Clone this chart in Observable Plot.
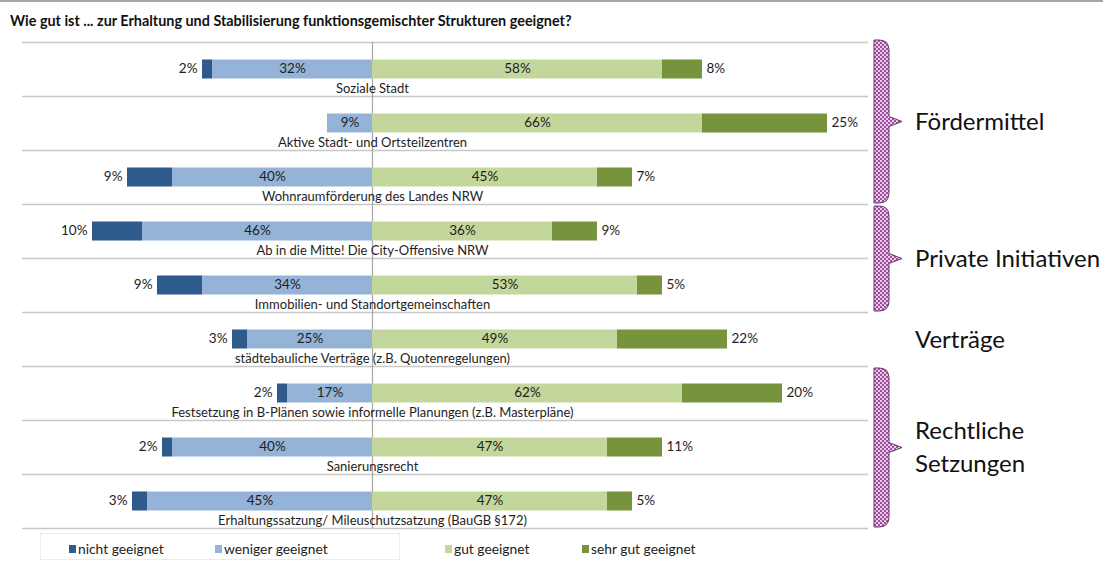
<!DOCTYPE html>
<html><head><meta charset="utf-8">
<script src="https://cdn.jsdelivr.net/npm/d3@7"></script>
<script src="https://cdn.jsdelivr.net/npm/@observablehq/plot@0.6"></script>
<style>
html,body{margin:0;padding:0;background:#fff;width:1103px;height:561px;overflow:hidden;font-family:Lato,"Open Sans",sans-serif;}
#title{box-sizing:border-box;height:36px;border-top:2px solid #a6a6a6;padding:10px 0 0 10px;font-weight:bold;font-size:14.4px;color:#111;white-space:nowrap;}
#chart svg{display:block;overflow:visible}
#legend{position:relative;height:25px;font-size:13.8px;color:#222}
#legend .box{position:absolute;left:40px;top:-3px;width:360px;height:27px;border:1px solid #ececec;box-sizing:border-box}
#legend .item{position:absolute;top:4px;white-space:nowrap;display:flex;align-items:center}
#legend .sw{display:inline-block;width:7px;height:8px;margin-right:2px}
</style></head><body>
<div id="title">Wie gut ist ... zur Erhaltung und Stabilisierung funktionsgemischter Strukturen geeignet?</div>
<div id="chart"></div>
<div id="legend"></div>
<script>
const categories = [
  "Soziale Stadt",
  "Aktive Stadt- und Ortsteilzentren",
  "Wohnraumförderung des Landes NRW",
  "Ab in die Mitte! Die City-Offensive NRW",
  "Immobilien- und Standortgemeinschaften",
  "städtebauliche Verträge (z.B. Quotenregelungen)",
  "Festsetzung in B-Plänen sowie informelle Planungen (z.B. Masterpläne)",
  "Sanierungsrecht",
  "Erhaltungssatzung/ Mileuschutzsatzung (BauGB §172)"
];
const nichtGeeignet   = [2, 0, 9, 10, 9, 3, 2, 2, 3];
const wenigerGeeignet = [32, 9, 40, 46, 34, 25, 17, 40, 45];
const gutGeeignet     = [58, 66, 45, 36, 53, 49, 62, 47, 47];
const sehrGutGeeignet = [8, 25, 7, 9, 5, 22, 20, 11, 5];
const seriesNames  = ["nicht geeignet", "weniger geeignet", "gut geeignet", "sehr gut geeignet"];
const seriesColors = ["#2f5b8c", "#95b3d7", "#c3d69b", "#77933c"];
const groupNames  = [["Fördermittel"], ["Private Initiativen"], ["Verträge"], ["Rechtliche", "Setzungen"]];
const groupFirst  = [0, 3, 5, 6];
const groupLast   = [2, 4, 5, 8];
const groupBrace  = [true, true, false, true];
const legendLeft  = [69, 215, 445, 582];

const segs = [];
categories.forEach((c, i) => {
  const n = nichtGeeignet[i], w = wenigerGeeignet[i], g = gutGeeignet[i], s = sehrGutGeeignet[i];
  segs.push({cat: c, series: seriesNames[0], x1: -(w + n), x2: -w, v: n});
  segs.push({cat: c, series: seriesNames[1], x1: -w, x2: 0, v: w});
  segs.push({cat: c, series: seriesNames[2], x1: 0, x2: g, v: g});
  segs.push({cat: c, series: seriesNames[3], x1: g, x2: g + s, v: s});
});
const shown = segs.filter(d => d.v > 0);
const pct = d => d.v + "%";

const W = 1103, H = 500, mT = 6, mB = 8, mL = 22, mR = 235;
const rowH = (H - mT - mB) / categories.length;
const txtCol = "#1e1e1e";

const chart = Plot.plot({
  width: W, height: H, marginTop: mT, marginBottom: mB, marginLeft: mL, marginRight: mR,
  style: {fontFamily: "Lato, sans-serif", background: "transparent", overflow: "visible"},
  x: {domain: [-70, 99.2], axis: null},
  y: {domain: categories, padding: 0, axis: null},
  color: {domain: seriesNames, range: seriesColors},
  marks: [
    Plot.ruleY(categories, {y: d => d, dy: -rowH / 2, stroke: "#c8c8c8", strokeWidth: 1.5}),
    Plot.ruleY(categories.slice(-1), {y: d => d, dy: rowH / 2, stroke: "#c8c8c8", strokeWidth: 1.5}),
    Plot.ruleX([0], {stroke: "#a6a6a6", strokeWidth: 1.2}),
    Plot.barX(shown, {x1: "x1", x2: "x2", y: "cat", fill: "series", insetTop: 17.5, insetBottom: 17.5}),
    Plot.text(shown.filter(d => d.series === seriesNames[1] || d.series === seriesNames[2]),
      {x: d => (d.x1 + d.x2) / 2, y: "cat", text: pct, fontSize: 13.5, dy: -1, fill: txtCol}),
    Plot.text(shown.filter(d => d.series === seriesNames[0]),
      {x: "x1", y: "cat", text: pct, textAnchor: "end", dx: -5, dy: -1, fontSize: 13.5, fill: txtCol}),
    Plot.text(shown.filter(d => d.series === seriesNames[3]),
      {x: "x2", y: "cat", text: pct, textAnchor: "start", dx: 4, dy: -1, fontSize: 13.5, fill: txtCol}),
    Plot.text(categories, {x: 0, y: d => d, text: d => d, dy: 19, fontSize: 13, fill: txtCol})
  ]
});
document.getElementById("chart").appendChild(chart);

// braces and group labels, positioned through the plot's scales
const ysc = chart.scale("y"), xsc = chart.scale("x");
const step = (ysc.range[1] - ysc.range[0]) / ysc.domain.length;
const rowTop = i => ysc.range[0] + i * step;
const xr = xsc.range[1];
const svg = d3.select(chart);
const defs = svg.append("defs");
const pat = defs.append("pattern").attr("id", "brpat").attr("patternUnits", "userSpaceOnUse")
  .attr("width", 4).attr("height", 4);
pat.append("rect").attr("width", 4).attr("height", 4).attr("fill", "#9d4e9d");
pat.append("rect").attr("width", 2).attr("height", 2).attr("fill", "#e9cbe9");
pat.append("rect").attr("x", 2).attr("y", 2).attr("width", 2).attr("height", 2).attr("fill", "#e9cbe9");
const gBr = svg.append("g").attr("text-anchor", "start");
groupNames.forEach((name, k) => {
  const y0 = rowTop(groupFirst[k]) - (k === 0 ? 2 : -2), y1 = rowTop(groupLast[k] + 1) - 1;
  const ym = (y0 + y1) / 2;
  if (groupBrace[k]) {
    const L = xr + 6, R = L + 15, T = R + 13, r = 10;
    const d = `M${L},${y0} L${R - r},${y0} Q${R},${y0} ${R},${y0 + r} L${R},${ym - 5} L${T},${ym} L${R},${ym + 5} L${R},${y1 - r} Q${R},${y1} ${R - r},${y1} L${L},${y1} Z`;
    gBr.append("path").attr("d", d).attr("fill", "url(#brpat)").attr("stroke", "#6b356b").attr("stroke-width", 1);
  }
  const lh = 33;
  name.forEach((line, j) => {
    gBr.append("text").attr("x", xr + 47).attr("y", ym + (j - (name.length - 1) / 2) * lh)
      .attr("dy", "0.35em").attr("font-size", 24).attr("fill", "#111").attr("text-anchor", "start")
      .attr("font-family", "Lato, sans-serif").text(line);
  });
});

// legend
const leg = d3.select("#legend");
leg.append("div").attr("class", "box");
seriesNames.forEach((s, i) => {
  const it = leg.append("div").attr("class", "item").style("left", legendLeft[i] + "px");
  it.append("span").attr("class", "sw").style("background", seriesColors[i]);
  it.append("span").text(s);
});
</script>
</body></html>
